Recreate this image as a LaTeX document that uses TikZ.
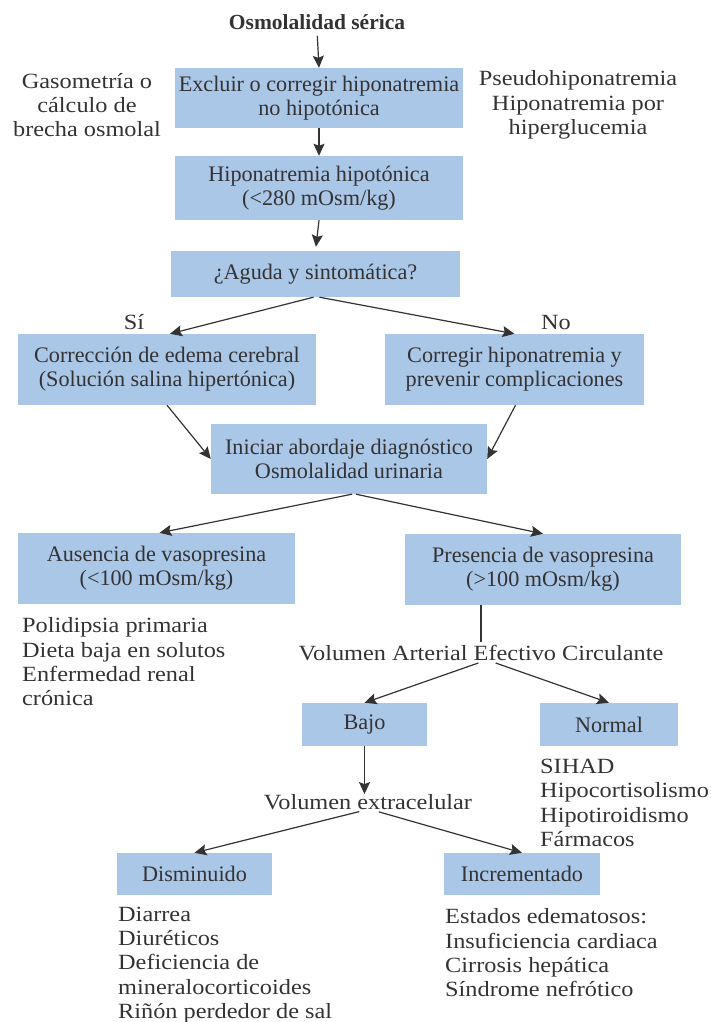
\documentclass[tikz,border=0pt]{standalone}
\usepackage{fontspec}
\setmainfont{Liberation Serif}
\newfontfamily\boxf{Liberation Serif}
\newfontfamily\outf[FakeStretch=1.12]{Liberation Serif}
\usetikzlibrary{arrows.meta}
\definecolor{boxblue}{RGB}{170,199,231}
\definecolor{ink}{RGB}{51,51,51}
\begin{document}
\begin{tikzpicture}[x=1pt,y=-1pt,
  bx/.style={fill=boxblue,inner sep=0pt,align=center,text=ink,
    font=\boxf\fontsize{22.2}{24}\selectfont},
  outtxt/.style={inner sep=0pt,text=ink,font=\outf\fontsize{21.7}{24.3}\selectfont},
  conn/.style={draw=ink,line width=1.2pt,-{Stealth[length=12pt,width=11pt,inset=2pt]}},
  plain/.style={draw=ink,line width=1.2pt}]
\useasboundingbox (0,0) rectangle (711,1022);
\node[inner sep=0pt,text=ink,font=\boxf\bfseries\fontsize{21.5}{24}\selectfont] (title) at (317,22) {Osmolalidad sérica};
\node[bx,minimum width=288pt,minimum height=60pt] (b1) at (319,98) {Excluir o corregir hiponatremia\\no hipotónica};
\node[bx,minimum width=288pt,minimum height=64pt] (b2) at (319,188) {Hiponatremia hipotónica\\(<280 mOsm/kg)};
\node[bx,minimum width=289pt,minimum height=46pt] (b3) at (315.5,274) {¿Aguda y sintomática?};
\node[bx,minimum width=298pt,minimum height=71pt] (b4) at (167,369.5) {Corrección de edema cerebral\\(Solución salina hipertónica)};
\node[bx,minimum width=259pt,minimum height=71pt] (b5) at (514.5,369.5) {Corregir hiponatremia y\\prevenir complicaciones};
\node[bx,minimum width=276pt,minimum height=70pt] (b6) at (349,459) {Iniciar abordaje diagnóstico\\Osmolalidad urinaria};
\node[bx,minimum width=277pt,minimum height=71pt] (b7) at (156.5,568.5) {Ausencia de vasopresina\\(<100 mOsm/kg)};
\node[bx,minimum width=276pt,minimum height=71pt] (b8) at (543,569.5) {Presencia de vasopresina\\(>100 mOsm/kg)};
\node[bx,minimum width=125pt,minimum height=43pt] (b9) at (364.5,724.5) {Bajo};
\node[bx,minimum width=138pt,minimum height=43pt] (b10) at (609,724.5) {Normal};
\node[bx,minimum width=155pt,minimum height=42pt] (b11) at (194.5,874) {Disminuido};
\node[bx,minimum width=156pt,minimum height=42pt] (b12) at (522,874) {Incrementado};
% outside texts
\node[outtxt,align=center] (gaso) at (87,105) {Gasometría o\\cálculo de\\brecha osmolal};
\node[outtxt,align=center] (pseudo) at (578,105) {Pseudohiponatremia\\Hiponatremia por\\hiperglucemia};
\node[outtxt] (si) at (134,322) {Sí};
\node[outtxt] (no) at (556,322) {No};
\node[outtxt,align=left,anchor=west] (l1) at (22,662) {Polidipsia primaria\\Dieta baja en solutos\\Enfermedad renal\\crónica};
\node[outtxt] (vaec) at (481,653) {Volumen Arterial Efectivo Circulante};
\node[outtxt,align=left,anchor=west] (l2) at (540,803) {SIHAD\\Hipocortisolismo\\Hipotiroidismo\\Fármacos};
\node[outtxt] (volext) at (368,802) {Volumen extracelular};
\node[outtxt,align=left,anchor=west] (l3) at (118,965) {Diarrea\\Diuréticos\\Deficiencia de\\mineralocorticoides\\Riñón perdedor de sal};
\node[outtxt,align=left,anchor=west] (l4) at (445,953) {Estados edematosos:\\Insuficiencia cardiaca\\Cirrosis hepática\\Síndrome nefrótico};
% connectors
\draw[conn,shorten <=6pt] (title.south) -- (b1.north);
\draw[conn] (b1.south) -- (b2.north);
\draw[conn,shorten >=4pt] (b2.south) -- (b3.north);
\draw[conn] ([xshift=-2pt]b3.south) -- ([xshift=3pt]b4.north);
\draw[conn] ([xshift=4pt]b3.south) -- (b5.north);
\draw[conn] (b4.south) -- (b6.west);
\draw[conn] ([xshift=1pt]b5.south) -- (b6.east);
\draw[conn] ([xshift=3pt]b6.south) -- ([xshift=3pt]b7.north);
\draw[conn] ([xshift=7pt]b6.south) -- (b8.north);
\draw[plain] (vaec.north |- b8.south) -- ([yshift=3pt]vaec.north);
\draw[conn,shorten <=6pt] ([xshift=3pt]vaec.south) -- (b9.north);
\draw[conn,shorten <=6pt] ([xshift=9pt]vaec.south) -- (b10.north);
\draw[conn] (b9.south) -- (b9.south |- volext.north);
\draw[conn,shorten <=7pt] ([xshift=-2pt]volext.south) -- (b11.north);
\draw[conn,shorten <=7pt] ([xshift=4pt]volext.south) -- (b12.north);
\end{tikzpicture}
\end{document}
